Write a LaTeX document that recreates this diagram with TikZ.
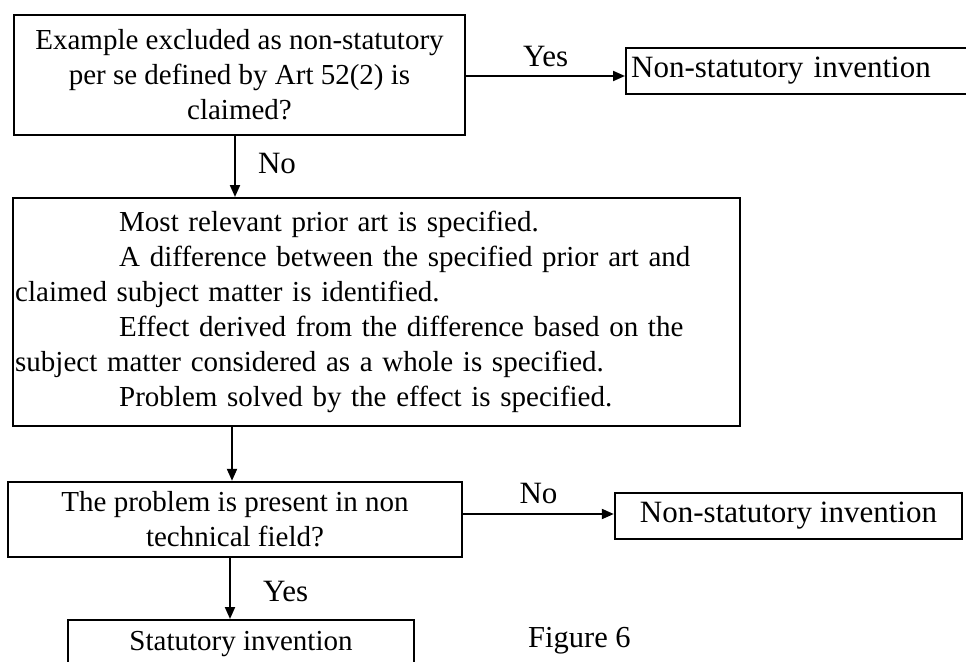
\documentclass[tikz,border=0pt]{standalone}
\usepackage{fontspec}
\setmainfont{Liberation Serif}
\usetikzlibrary{arrows.meta}

\begin{document}
\begin{tikzpicture}[x=1pt,y=-1pt,
  font=\fontsize{29}{35}\selectfont,
  box/.style={draw, line width=2.4pt, inner sep=2pt},
  big/.style={font=\fontsize{31}{36}\selectfont},
  arr/.style={line width=2pt, -{Triangle[length=12pt,width=10pt]}},
  lbl/.style={inner sep=0pt, font=\fontsize{31}{36}\selectfont}]
\useasboundingbox (0,0) rectangle (966,661);
\fill[white] (0,0) rectangle (966,661);
\clip (0,0) rectangle (966,661);

% decision: excluded subject matter
\node[box, minimum width=451pt, minimum height=120pt, align=center] (B1) at (239.5,75)
  {Example excluded as non-statutory\\per se defined by Art 52(2) is\\claimed?};

% outcome for the "Yes" branch (runs past the right edge)
\node[box, big, anchor=west, minimum height=46pt, text width=340pt, inner xsep=5pt, align=left] (N1) at (625,71)
  {Non-statutory invention};

% problem-solution analysis
\node[box, anchor=north west, minimum width=727pt, minimum height=228pt,
      text width=723pt, inner xsep=2pt, align=left] (B2) at (12,197)
  {\hspace*{104pt}Most relevant prior art is specified.\\
   \hspace*{104pt}A difference between the specified prior art and\\
   claimed subject matter is identified.\\
   \hspace*{104pt}Effect derived from the difference based on the\\
   subject matter considered as a whole is specified.\\
   \hspace*{104pt}Problem solved by the effect is specified.};

% decision: technical field
\node[box, minimum width=454pt, minimum height=75pt, align=center] (B3) at (235,519.5)
  {The problem is present in non\\technical field?};

\node[box, big, minimum width=347pt, minimum height=46pt] (N2) at (788.5,516)
  {Non-statutory invention};

\node[box, anchor=north, minimum width=346pt, minimum height=48pt] (B4) at (241,619)
  {Statutory invention};

\node[lbl, anchor=west, font=\fontsize{30.5}{36}\selectfont] (fig) at (528,641) {Figure 6};

% vertical connector positions
\coordinate (c1) at (235,0);
\coordinate (c2) at (232,0);
\coordinate (c3) at (230,0);

\draw[arr] (c1 |- B1.south) -- node[lbl, right=22pt, pos=0.45] {No} (c1 |- B2.north);
\draw[arr] (B1.east |- 0,76) -- node[lbl, above=8pt] {Yes} (N1.west |- 0,76);
\draw[arr] (c2 |- B2.south) -- (c2 |- B3.north);
\draw[arr] (B3.east |- 0,514) -- node[lbl, above=9pt, pos=0.5] {No} (N2.west |- 0,514);
\draw[arr] (c3 |- B3.south) -- node[lbl, right=32pt, pos=0.55] {Yes} (c3 |- B4.north);
\end{tikzpicture}
\end{document}
